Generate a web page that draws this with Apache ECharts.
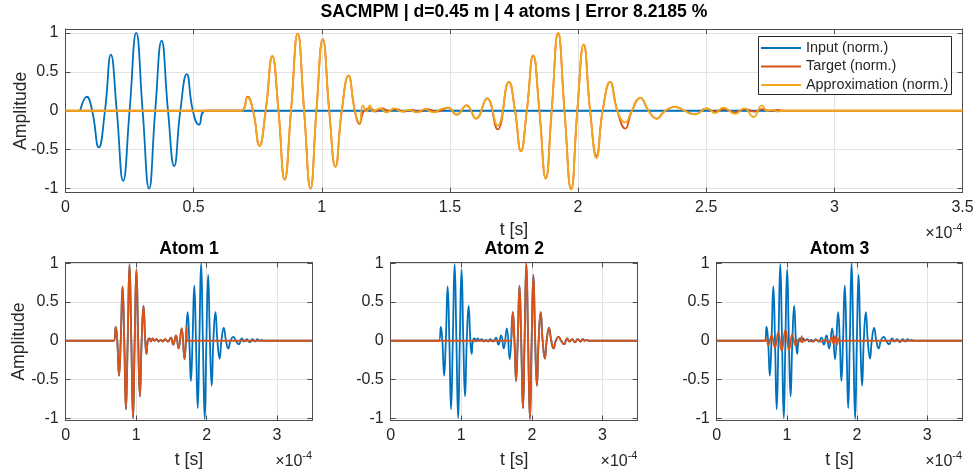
<!DOCTYPE html>
<html><head><meta charset="utf-8">
<script src="https://cdn.jsdelivr.net/npm/echarts@6/dist/echarts.min.js"></script>
<style>html,body{margin:0;padding:0;background:#fff}#c{width:975px;height:475px}</style>
</head><body><div id="c"></div>
<script>
// ---------- data (time in units of 1e-4 s) ----------
const mainTitle = 'SACMPM | d=0.45 m | 4 atoms | Error 8.2185 %';
const atomTitles = ['Atom 1', 'Atom 2', 'Atom 3'];
const seriesNames = ['Input (norm.)', 'Target (norm.)', 'Approximation (norm.)'];
const xTicksTop = [0, 0.5, 1, 1.5, 2, 2.5, 3, 3.5];
const xTicksAtom = [0, 1, 2, 3];
const yTicks = [-1, -0.5, 0, 0.5, 1];
const axisXName = 't [s]';
const axisYName = 'Amplitude';
const expBase = '×10';
const expPow = '-4';

const inputWave = [[0.057,0],[0.083,0.18],[0.104,0],[0.130,-0.47],[0.154,0],[0.177,0.72],[0.200,0],[0.225,-0.90],[0.250,0],[0.276,1.0],[0.301,0],[0.326,-1.0],[0.350,0],[0.375,0.90],[0.400,0],[0.424,-0.71],[0.448,0],[0.473,0.47],[0.497,0],[0.521,-0.18],[0.546,0],[2.78,0]];

const targetWave = [[0,0],[0.684,0],[0.710,0.18],[0.732,0],[0.757,-0.45],[0.781,0],[0.807,0.70],[0.831,0],[0.855,-0.885],[0.880,0],[0.906,0.99],[0.931,0],[0.956,-1.0],[0.979,0],[1.004,0.92],[1.029,0],[1.053,-0.72],[1.078,0],[1.104,0.45],[1.129,0],[1.147,-0.17],[1.165,0],[1.19,0.03],[1.21,-0.01],[1.235,0.03],[1.26,0],[1.29,0.02],[1.32,-0.01],[1.35,0.01],[1.38,-0.01],[1.41,0.02],[1.45,-0.01],[1.493,0.04],[1.526,-0.05],[1.565,0.07],[1.602,-0.10],[1.645,0.16],[1.686,-0.24],[1.730,0.37],[1.754,0],[1.777,-0.52],[1.80,0],[1.825,0.71],[1.849,0],[1.874,-0.87],[1.897,0],[1.922,1.0],[1.947,0],[1.973,-1.01],[1.997,0],[2.022,0.85],[2.047,0],[2.072,-0.58],[2.096,0],[2.125,0.37],[2.153,0],[2.184,-0.23],[2.21,0],[2.243,0.165],[2.275,0],[2.307,-0.10],[2.34,0],[2.379,0.05],[2.415,0],[2.457,-0.045],[2.50,0.03],[2.535,-0.01],[2.57,0.02],[2.61,-0.02],[2.65,0.02],[2.69,-0.01],[2.72,0.02],[2.75,0],[2.78,0.01],[2.80,0],[3.5,0]];

const approxWave = [[0,0],[0.684,0],[0.710,0.17],[0.732,0],[0.757,-0.45],[0.781,0],[0.807,0.70],[0.831,0],[0.855,-0.885],[0.880,0],[0.906,0.99],[0.931,0],[0.956,-1.0],[0.979,0],[1.004,0.92],[1.029,0],[1.053,-0.72],[1.078,0],[1.104,0.45],[1.129,0],[1.147,-0.16],[1.160,0.07],[1.175,-0.01],[1.188,0.07],[1.200,-0.01],[1.227,0.03],[1.253,-0.02],[1.283,0.03],[1.31,-0.01],[1.34,0.01],[1.37,-0.02],[1.402,0.02],[1.435,-0.02],[1.465,0.02],[1.493,0.04],[1.526,-0.05],[1.565,0.07],[1.602,-0.10],[1.645,0.16],[1.686,-0.19],[1.730,0.37],[1.754,0],[1.777,-0.52],[1.80,0],[1.825,0.71],[1.849,0],[1.874,-0.87],[1.897,0],[1.922,1.0],[1.947,0],[1.973,-1.01],[1.997,0],[2.022,0.85],[2.047,0],[2.072,-0.61],[2.096,0],[2.125,0.37],[2.153,0],[2.184,-0.15],[2.21,0],[2.243,0.165],[2.275,0],[2.307,-0.10],[2.34,0],[2.379,0.05],[2.415,0],[2.457,-0.045],[2.503,0.03],[2.535,-0.03],[2.566,0.04],[2.613,-0.04],[2.648,0.03],[2.685,-0.08],[2.717,0.07],[2.737,0],[2.76,0.01],[2.78,-0.01],[2.80,0],[3.5,0]];

const atom1Tail = [[1.716,0.18],[1.722,0],[3.5,0]];
const atom2Head = [[0,0],[1.70,0]];
const atom3Wave = [[0,0],[0.70,0],[0.712,0.03],[0.735,-0.06],[0.783,0.07],[0.830,-0.09],[0.878,0.11],[0.925,-0.13],[0.980,0.14],[1.030,-0.12],[1.077,0.08],[1.125,-0.06],[1.16,0.01],[1.19,-0.01],[1.205,0.02],[1.212,0.06],[1.22,-0.02],[1.24,0],[1.30,0.01],[1.36,-0.01],[1.42,0.01],[1.48,-0.01],[1.54,0.01],[1.60,-0.02],[1.638,0.05],[1.665,-0.04],[1.69,0.06],[1.715,-0.05],[1.735,0.03],[1.75,0],[3.5,0]];

const atom1Wave = targetWave.filter(p => p[0] <= 1.686).concat(atom1Tail);
const atom2Wave = atom2Head.concat(targetWave.filter(p => p[0] >= 1.730));

// ---------- styling / layout ----------
const FONT = "'Liberation Sans', Arial, Helvetica, sans-serif";
const AX = '#4d4d4d', GRIDC = '#e3e3e3', TXT = '#262626';
const BLUE = '#0072BD', RED = '#D95319', YEL = '#F2A81D';
const grids = [
  {left: 65.5, top: 29, width: 897, height: 163.5, outerBoundsMode: 'none', containLabel: false},
  {left: 65.7, top: 262.5, width: 246.6, height: 158, outerBoundsMode: 'none', containLabel: false},
  {left: 390.7, top: 262.5, width: 247, height: 158, outerBoundsMode: 'none', containLabel: false},
  {left: 716.7, top: 262.5, width: 245.6, height: 158, outerBoundsMode: 'none', containLabel: false}
];
const yRanges = [[-1.05, 1.05], [-1.03, 1.01], [-1.03, 1.01], [-1.03, 1.01]];

const xAxes = [], yAxes = [];
grids.forEach((g, i) => {
  const xt = i === 0 ? xTicksTop : xTicksAtom;
  const iv = i === 0 ? 0.5 : 1;
  const tick = {show: true, inside: true, length: 5, lineStyle: {color: AX, width: 1}};
  const line = {show: true, onZero: false, lineStyle: {color: AX, width: 1}};
  xAxes.push({gridIndex: i, type: 'value', min: 0, max: 3.5, interval: iv, position: 'bottom',
    name: axisXName, nameLocation: 'middle', nameGap: i === 0 ? 29 : 31, nameMoveOverlap: false,
    nameTextStyle: {fontSize: 17.6, color: TXT, fontFamily: FONT},
    axisLine: line, axisTick: Object.assign({customValues: xt}, tick),
    axisLabel: {customValues: xt, fontSize: 16, color: TXT, fontFamily: FONT, margin: 7},
    splitLine: {show: true, lineStyle: {color: GRIDC, width: 1}}});
  xAxes.push({gridIndex: i, type: 'value', min: 0, max: 3.5, interval: iv, position: 'top',
    axisLine: line, axisTick: Object.assign({customValues: xt}, tick),
    axisLabel: {show: false}, splitLine: {show: false}});
  yAxes.push({gridIndex: i, type: 'value', min: yRanges[i][0], max: yRanges[i][1], position: 'left',
    name: i <= 1 ? axisYName : '', nameLocation: 'middle', nameGap: i === 0 ? 35 : 38, nameMoveOverlap: false,
    nameTextStyle: {fontSize: 17.6, color: TXT, fontFamily: FONT},
    axisLine: line, axisTick: Object.assign({customValues: yTicks}, tick),
    axisLabel: {customValues: yTicks, fontSize: 16, color: TXT, fontFamily: FONT, margin: 7},
    splitLine: {show: true, lineStyle: {color: GRIDC, width: 1}}});
  yAxes.push({gridIndex: i, type: 'value', min: yRanges[i][0], max: yRanges[i][1], position: 'right',
    axisLine: line, axisTick: Object.assign({customValues: yTicks}, tick),
    axisLabel: {show: false}, splitLine: {show: false}});
});

function mk(name, data, gi, color) {
  return {name: name, type: 'line', data: data, xAxisIndex: 2 * gi, yAxisIndex: 2 * gi,
    color: color, showSymbol: false, symbol: 'none', smooth: 0.5,
    lineStyle: {color: color, width: 1.8}, emphasis: {disabled: true}, silent: true};
}
const series = [
  mk(seriesNames[0], inputWave, 0, BLUE),
  mk(seriesNames[1], targetWave, 0, RED),
  mk(seriesNames[2], approxWave, 0, YEL),
  mk('a1 target', targetWave, 1, BLUE), mk('a1 atom', atom1Wave, 1, RED),
  mk('a2 target', targetWave, 2, BLUE), mk('a2 atom', atom2Wave, 2, RED),
  mk('a3 target', targetWave, 3, BLUE), mk('a3 atom', atom3Wave, 3, RED)
];

const titleCenters = [514, 189, 514.2, 839.5];
const titles = [{text: mainTitle, left: titleCenters[0], top: 3}].concat(
  atomTitles.map((t, k) => ({text: t, left: titleCenters[k + 1], top: 240})));

const graphic = [
  {type: 'rect', z: 3, shape: {x: 758.5, y: 36.5, width: 193, height: 58},
   style: {fill: '#fff', stroke: '#262626', lineWidth: 1}}
];
grids.forEach(g => {
  const r = g.left + g.width, b = g.top + g.height;
  graphic.push({type: 'text', x: r - 10, y: b + 41.5, style: {text: expBase, fontSize: 16, fontFamily: FONT, fill: TXT, align: 'right', verticalAlign: 'middle'}});
  graphic.push({type: 'text', x: r - 10, y: b + 35.5, style: {text: expPow, fontSize: 11, fontFamily: FONT, fill: TXT, align: 'left', verticalAlign: 'middle'}});
});

const chart = echarts.init(document.getElementById('c'), null, {renderer: 'canvas'});
chart.setOption({
  animation: false,
  backgroundColor: '#fff',
  title: titles.map(t => Object.assign({textAlign: 'center', padding: 0,
    textStyle: {fontSize: 17.6, fontWeight: 'bold', color: '#000', fontFamily: FONT}}, t)),
  grid: grids,
  xAxis: xAxes,
  yAxis: yAxes,
  legend: {data: seriesNames, orient: 'vertical', left: 761, top: 41, z: 5, padding: 0,
    itemWidth: 40, itemHeight: 2, itemGap: 4.5, icon: 'rect', selectedMode: false,
    textStyle: {fontSize: 14.4, color: TXT, fontFamily: FONT}},
  graphic: graphic,
  series: series
});
</script>
</body></html>
